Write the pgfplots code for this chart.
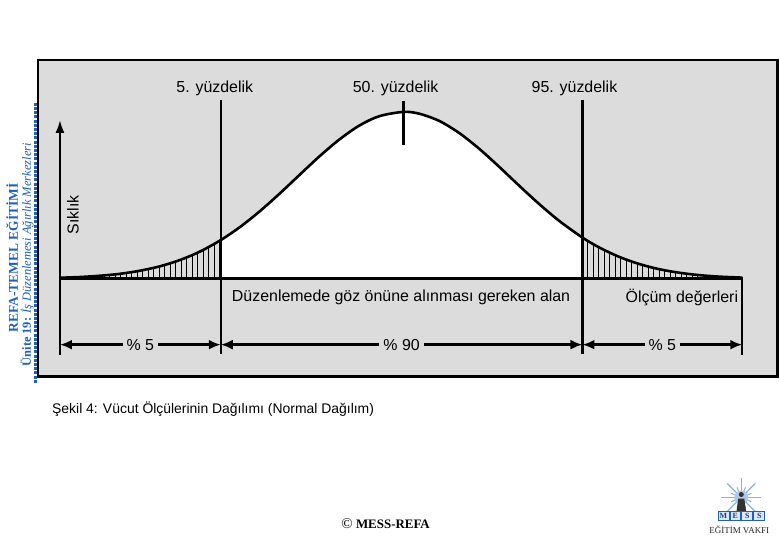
\documentclass[border=0pt]{standalone}
\usepackage{pgfplots}
\pgfplotsset{compat=1.18}
\usepackage{fontspec}
\setmainfont{Liberation Sans}
\newfontfamily\seriffont{Liberation Serif}
\usetikzlibrary{patterns.meta,arrows.meta}
\definecolor{boxgray}{HTML}{DCDCDC}
\definecolor{refablue}{RGB}{31,95,191}
\begin{document}
\begin{tikzpicture}
\begin{axis}[scale only axis, width=780bp, height=540bp,
  xmin=0, xmax=780, ymin=0, ymax=540, y dir=reverse,
  hide axis, clip=false]
% page background
\fill[white] (axis cs:0,0) rectangle (axis cs:780,540);
% gray panel
\fill[boxgray] (axis cs:38,60) rectangle (axis cs:778,377);
\draw[line width=2.5bp, black] (axis cs:38,60) rectangle (axis cs:778,377);
\draw[line width=3.5bp, black] (axis cs:37,377) -- (axis cs:779,377);
% white area between 5th and 95th percentile
\addplot[fill=white, draw=none] coordinates {
(221,279) (221,240.3) (240,227.4) (260,211.5) (280,193.7) (300,174.9) (320,156.3)
(340,139.4) (360,125.5) (380,116.2) (404,112.0) (420,113.9) (440,121.2) (460,133.4)
(480,149.2) (500,167.3) (520,186.2) (540,204.5) (560,221.3) (583,237.8) (583,279)} -- cycle;
% hatched tails
\addplot[draw=none, pattern={Lines[angle=90,distance=5.5bp,line width=1.1bp]}, pattern color=black] coordinates {
(60,279) (60,278.0) (80,277.3) (100,276.0) (120,274.1) (140,271.0) (160,266.6)
(180,260.3) (200,251.9) (221,240.3) (221,279)} -- cycle;
\addplot[draw=none, pattern={Lines[angle=90,distance=5.5bp,line width=1.1bp]}, pattern color=black] coordinates {
(583,279) (583,237.8) (600,247.8) (620,257.2) (640,264.3) (660,269.5) (680,273.0)
(700,275.4) (720,276.9) (743,277.9) (743,279)} -- cycle;
% normal curve
\addplot[black, line width=2.6bp, smooth] coordinates {
(60,278.0) (80,277.3) (100,276.0) (120,274.1) (140,271.0) (160,266.6) (180,260.3)
(200,251.9) (221,240.3) (240,227.4) (260,211.5) (280,193.7) (300,174.9) (320,156.3)
(340,139.4) (360,125.5) (380,116.2) (404,112.0) (420,113.9) (440,121.2) (460,133.4)
(480,149.2) (500,167.3) (520,186.2) (540,204.5) (560,221.3) (583,237.8) (600,247.8)
(620,257.2) (640,264.3) (660,269.5) (680,273.0) (700,275.4) (720,276.9) (743,277.9)};
% baseline and verticals
\draw[line width=3.2bp] (axis cs:60,279) -- (axis cs:744,279);
\draw[line width=2.4bp] (axis cs:221,100) -- (axis cs:221,354);
\draw[line width=2.4bp] (axis cs:583,100) -- (axis cs:583,354);
\draw[line width=2.4bp] (axis cs:404,101) -- (axis cs:404,145);
\draw[line width=2.4bp] (axis cs:743,279) -- (axis cs:743,355);
\draw[line width=2.4bp, -{Latex[length=13bp,width=9bp]}] (axis cs:60,355) -- (axis cs:60,120);
% range arrows
\draw[line width=2.6bp, {Latex[length=12bp,width=10bp]}-{Latex[length=12bp,width=10bp]}] (axis cs:60,345) -- (axis cs:221,345) node[midway, fill=boxgray, inner xsep=4bp, inner ysep=1bp, font=\fontsize{16}{16}\selectfont]{\% 5};
\draw[line width=2.6bp, {Latex[length=12bp,width=10bp]}-{Latex[length=12bp,width=10bp]}] (axis cs:221,345) -- (axis cs:583,345) node[midway, fill=boxgray, inner xsep=4bp, inner ysep=1bp, font=\fontsize{16}{16}\selectfont]{\% 90};
\draw[line width=2.6bp, {Latex[length=12bp,width=10bp]}-{Latex[length=12bp,width=10bp]}] (axis cs:583,345) -- (axis cs:743,345) node[midway, fill=boxgray, inner xsep=4bp, inner ysep=1bp, font=\fontsize{16}{16}\selectfont]{\% 5};
% labels
\node[inner sep=0pt, font=\fontsize{16}{16}\selectfont] at (axis cs:215,88) {5. yüzdelik};
\node[inner sep=0pt, font=\fontsize{16}{16}\selectfont] at (axis cs:396,88) {50. yüzdelik};
\node[inner sep=0pt, font=\fontsize{16}{16}\selectfont] at (axis cs:575,88) {95. yüzdelik};
\node[inner sep=0pt, font=\fontsize{16}{16}\selectfont, rotate=90] at (axis cs:73,215) {Sıklık};
\node[inner sep=0pt, font=\fontsize{16}{16}\selectfont, anchor=west] at (axis cs:232,298) {Düzenlemede göz önüne alınması gereken alan};
\node[inner sep=0pt, font=\fontsize{16}{16}\selectfont, anchor=east] at (axis cs:739,298) {Ölçüm değerleri};
% caption
\node[anchor=west, inner sep=0pt, font=\fontsize{14}{15}\selectfont] at (axis cs:52,410) {Şekil 4: Vücut Ölçülerinin Dağılımı (Normal Dağılım)};
% left vertical banner
\draw[refablue, line width=3bp, dash pattern=on 3bp off 1.2bp] (axis cs:36,103) -- (axis cs:36,384);
\node[rotate=90, inner sep=0pt, text=refablue, font=\seriffont\bfseries\fontsize{13.5}{14}\selectfont] at (axis cs:12,258) {REFA-TEMEL EĞİTİMİ};
\node[rotate=90, inner sep=0pt, text=refablue, font=\seriffont\fontsize{12.5}{13}\selectfont] at (axis cs:27,255) {\textbf{Ünite 19:} \textit{İş Düzenlemesi Ağırlık Merkezleri}};
% footer
\node[inner sep=0pt, font=\seriffont\bfseries\fontsize{13}{14}\selectfont] at (axis cs:386,524) {\textmd{\fontsize{15}{15}\selectfont ©} MESS-REFA};
\coordinate (logo) at (axis cs:742,498);
\coordinate (vakfi) at (axis cs:740,530);
\end{axis}
% logo (decoration outside the data)
\foreach \a in {0,45,...,315} {
  \draw[refablue!50, line width=1.2bp] (logo) -- ++(\a:20bp);
}
\foreach \a in {22.5,67.5,...,337.5} {
  \draw[refablue!50, line width=1bp] (logo) -- ++(\a:11bp);
}
\fill[refablue!35] (logo) circle[radius=7bp];
\fill[black!80] ([yshift=3bp]logo) circle[radius=2.5bp];
\fill[black!80] ([xshift=-3bp,yshift=-1bp]logo) -- ([xshift=3bp,yshift=-1bp]logo) -- ([xshift=5bp,yshift=-15bp]logo) -- ([xshift=-5bp,yshift=-15bp]logo) -- cycle;
\foreach \x/\c in {-18/M,-6/E,6/S,18/S} {
  \draw[refablue, fill=refablue!15, line width=0.6bp] ([xshift=\x bp-5.5bp,yshift=-14bp]logo) rectangle ([xshift=\x bp+5.5bp,yshift=-23bp]logo);
  \node[inner sep=0pt, font=\seriffont\bfseries\fontsize{8}{8}\selectfont, text=refablue!70!black] at ([xshift=\x bp,yshift=-18.5bp]logo) {\c};
}
\node[inner sep=0pt, font=\seriffont\fontsize{9}{9}\selectfont, text=black!85] at (vakfi) {EĞİTİM VAKFI};
\end{tikzpicture}
\end{document}
